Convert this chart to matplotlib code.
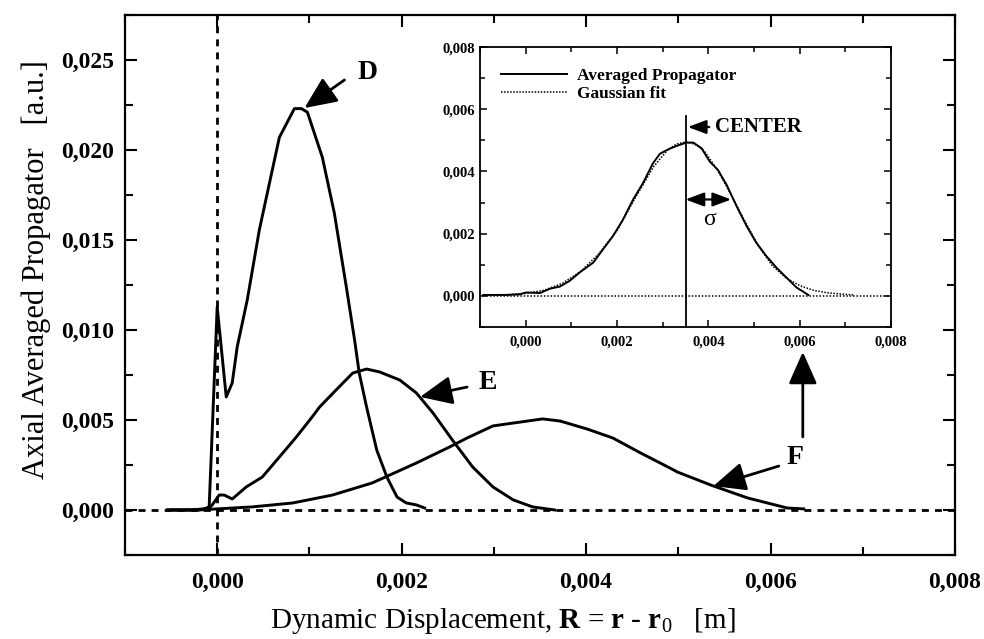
import numpy as np
import matplotlib
matplotlib.use('Agg')
import matplotlib.pyplot as plt
from matplotlib.ticker import MultipleLocator, FuncFormatter

plt.rcParams['font.family'] = 'Liberation Serif'
plt.rcParams['mathtext.fontset'] = 'custom'
plt.rcParams['mathtext.rm'] = 'Liberation Serif'
plt.rcParams['mathtext.bf'] = 'Liberation Serif:bold'
plt.rcParams['mathtext.it'] = 'Liberation Serif:italic'

# main plot: curves D, E, F
d_x = [-0.00054, -0.0003, -0.00014, -0.000087, 0.0, 0.000098, 0.000163, 0.000217,
       0.000326, 0.000457, 0.000543, 0.000674, 0.000837, 0.000913, 0.000978,
       0.00114, 0.00127, 0.0014, 0.00149, 0.00154, 0.00162, 0.00173, 0.00184,
       0.00195, 0.00205, 0.00216, 0.00225]
d_y = [0.0, 0.0, 0.00006, 0.00017, 0.01128, 0.00628, 0.00706, 0.00906,
       0.01167, 0.01556, 0.0176, 0.0207, 0.0223, 0.0223, 0.0221,
       0.0196, 0.0165, 0.0124, 0.00944, 0.00761, 0.00572, 0.00333, 0.00183,
       0.00072, 0.00039, 0.00028, 0.00011]

e_x = [-0.00054, -0.0002, -0.000087, -0.000054, 0.000022, 0.000076, 0.000163,
       0.000315, 0.000489, 0.000674, 0.000859, 0.00103, 0.00111, 0.00129,
       0.00147, 0.00162, 0.00176, 0.00198, 0.00216, 0.00234, 0.00255, 0.00277,
       0.00299, 0.00321, 0.00342, 0.00366]
e_y = [0.0, 0.0, 0.00012, 0.00028, 0.00083, 0.00083, 0.00061,
       0.00128, 0.00183, 0.00294, 0.00406, 0.00517, 0.00572, 0.00667,
       0.00761, 0.00783, 0.00767, 0.00722, 0.0065, 0.00539, 0.00389, 0.00239,
       0.00128, 0.00056, 0.00017, 0.0]

f_x = [-0.0005, -0.0002, 0.0, 0.00038, 0.00082, 0.00125, 0.00168, 0.00216,
       0.00252, 0.00271, 0.00299, 0.00321, 0.00353, 0.00372, 0.00401, 0.00429,
       0.00459, 0.00491, 0.00499, 0.00535, 0.00575, 0.00618, 0.00636]
f_y = [0.0, 0.0, 0.00006, 0.00017, 0.00039, 0.00083, 0.0015, 0.00261,
       0.0035, 0.004, 0.00467, 0.00483, 0.00506, 0.00494, 0.0045, 0.004,
       0.00317, 0.00233, 0.00211, 0.00139, 0.00067, 0.00011, 0.00006]

# inset: averaged propagator and gaussian fit
avg_x = [-0.00093, -0.00042, -0.00013, 0.00001, 0.00031, 0.00053, 0.00075,
         0.00096, 0.00118, 0.00148, 0.00169, 0.00191, 0.00213, 0.00235,
         0.00257, 0.00279, 0.00294, 0.00312, 0.0033, 0.00352, 0.00367,
         0.00385, 0.00403, 0.00421, 0.0044, 0.00462, 0.00484, 0.00505,
         0.00527, 0.00549, 0.00571, 0.00593, 0.00619]
avg_y = [0.00003, 0.00003, 0.00005, 0.00011, 0.00009, 0.00023, 0.0003,
         0.00048, 0.00075, 0.00107, 0.00149, 0.00192, 0.00245, 0.00309,
         0.00363, 0.00427, 0.00457, 0.00471, 0.00482, 0.00493, 0.00493,
         0.00475, 0.00432, 0.00405, 0.00357, 0.00288, 0.00224, 0.00171,
         0.00128, 0.00091, 0.00059, 0.00027, 0.00003]

fit_x = [-0.0009, -0.0004, 0.0, 0.0004, 0.0008, 0.0012, 0.0016, 0.0020, 0.0024,
         0.0028, 0.0031, 0.0033, 0.0035, 0.0037, 0.0039, 0.0042, 0.0045, 0.0048,
         0.0051, 0.0054, 0.0057, 0.0060, 0.0063, 0.0066, 0.0069, 0.0072]
fit_y = [0.00003, 0.00004, 0.00008, 0.00018, 0.0004, 0.00078, 0.00135, 0.0021,
         0.00315, 0.00415, 0.00468, 0.00488, 0.00495, 0.00488, 0.00468, 0.00405,
         0.00325, 0.0024, 0.0016, 0.00097, 0.00058, 0.00033, 0.00018, 0.0001,
         0.00006, 0.00003]

center_x = 0.0035


def comma_fmt(v, pos):
    return ('%.3f' % v).replace('.', ',').replace('-0,000', '0,000')


fig = plt.figure(figsize=(9.84, 6.39), dpi=100)
ax = fig.add_axes([0.127, 0.1315, 0.8435, 0.845])

ax.axhline(0, color='k', lw=2, ls=(0, (2.5, 2.2)), zorder=1)
ax.axvline(0, color='k', lw=2, ls=(0, (2.5, 2.2)), zorder=1)
for xs, ys in [(d_x, d_y), (e_x, e_y), (f_x, f_y)]:
    ax.plot(xs, ys, color='k', lw=2.1, solid_joinstyle='round', zorder=2)

ax.set_xlim(-0.001, 0.008)
ax.set_ylim(-0.0025, 0.0275)
ax.xaxis.set_major_locator(MultipleLocator(0.002))
ax.xaxis.set_minor_locator(MultipleLocator(0.001))
ax.yaxis.set_major_locator(MultipleLocator(0.005))
ax.yaxis.set_minor_locator(MultipleLocator(0.0025))
ax.xaxis.set_major_formatter(FuncFormatter(comma_fmt))
ax.yaxis.set_major_formatter(FuncFormatter(comma_fmt))
ax.tick_params(which='both', direction='in', top=True, right=True, width=1.5)
ax.tick_params(which='major', length=8.5)
ax.tick_params(which='minor', length=6)
ax.tick_params(axis='x', pad=12)
ax.tick_params(axis='y', pad=8)
for lab in ax.get_xticklabels() + ax.get_yticklabels():
    lab.set_fontsize(17)
    lab.set_fontweight('bold')
for sp in ax.spines.values():
    sp.set_linewidth(1.6)

ax.set_xlabel(r'Dynamic Displacement, $\mathbf{R}$ = $\mathbf{r}$ - $\mathbf{r}_\mathrm{0}$   [m]',
              fontsize=21)
ax.xaxis.set_label_coords(0.455, -0.094)
ax.set_ylabel('Axial Averaged Propagator   [a.u.]', fontsize=22)
ax.yaxis.set_label_coords(-0.089, 0.528)

arrow = dict(arrowstyle='-|>,head_length=0.9,head_width=0.4', color='k', lw=2,
             mutation_scale=22, shrinkA=0, shrinkB=0)
ax.annotate('', xy=(0.000946, 0.02233), xytext=(0.00138, 0.02389), arrowprops=arrow)
ax.text(0.00152, 0.02433, 'D', fontsize=20, fontweight='bold', va='center')
ax.annotate('', xy=(0.0022, 0.00628), xytext=(0.00271, 0.00683), arrowprops=arrow)
ax.text(0.00283, 0.00706, 'E', fontsize=20, fontweight='bold', va='center')
ax.annotate('', xy=(0.00538, 0.00133), xytext=(0.00609, 0.00244), arrowprops=arrow)
ax.text(0.00617, 0.00289, 'F', fontsize=20, fontweight='bold', va='center')
ax.annotate('', xy=(0.00635, 0.00878), xytext=(0.00635, 0.00406), arrowprops=arrow)

# inset
ins = fig.add_axes([0.4878, 0.4883, 0.4177, 0.438])
ins.axhline(0, color='k', lw=1.1, ls=(0, (1, 1.2)), zorder=1)
ins.plot(avg_x, avg_y, color='k', lw=1.4, label='Averaged Propagator')
ins.plot(fit_x, fit_y, color='k', lw=1.1, ls=(0, (1, 1)), label='Gaussian fit')
ins.plot([center_x, center_x], [-0.001, 0.0058], color='k', lw=1.3)
ins.set_xlim(-0.001, 0.008)
ins.set_ylim(-0.001, 0.008)
ins.xaxis.set_major_locator(MultipleLocator(0.002))
ins.xaxis.set_minor_locator(MultipleLocator(0.001))
ins.yaxis.set_major_locator(MultipleLocator(0.002))
ins.yaxis.set_minor_locator(MultipleLocator(0.001))
ins.xaxis.set_major_formatter(FuncFormatter(comma_fmt))
ins.yaxis.set_major_formatter(FuncFormatter(comma_fmt))
ins.tick_params(which='both', direction='in', top=True, right=True, width=1.1)
ins.tick_params(which='major', length=5)
ins.tick_params(which='minor', length=3.5)
ins.tick_params(axis='x', pad=6)
for lab in ins.get_xticklabels() + ins.get_yticklabels():
    lab.set_fontsize(10.5)
    lab.set_fontweight('bold')
for sp in ins.spines.values():
    sp.set_linewidth(1.3)

leg = ins.legend(loc='upper left', frameon=False, handlelength=3.8,
                 prop={'size': 12.5, 'weight': 'bold'}, borderaxespad=0.8,
                 labelspacing=0.1, handletextpad=0.6)

small_arrow = dict(arrowstyle='-|>,head_length=0.8,head_width=0.3', color='k', lw=1.6,
                   mutation_scale=14, shrinkA=0, shrinkB=0)
ins.annotate('', xy=(0.00355, 0.00543), xytext=(0.00402, 0.00543), arrowprops=small_arrow)
ins.text(0.00414, 0.00543, 'CENTER', fontsize=15, fontweight='bold', va='center')
ins.annotate('', xy=(0.0045, 0.0031), xytext=(0.0035, 0.0031),
             arrowprops=dict(arrowstyle='<|-|>,head_length=0.8,head_width=0.3', color='k',
                             lw=1.6, mutation_scale=14, shrinkA=0, shrinkB=0))
ins.text(0.00402, 0.00246, 'σ', fontsize=17, ha='center', va='center')

fig.savefig('out.png', dpi=100)
